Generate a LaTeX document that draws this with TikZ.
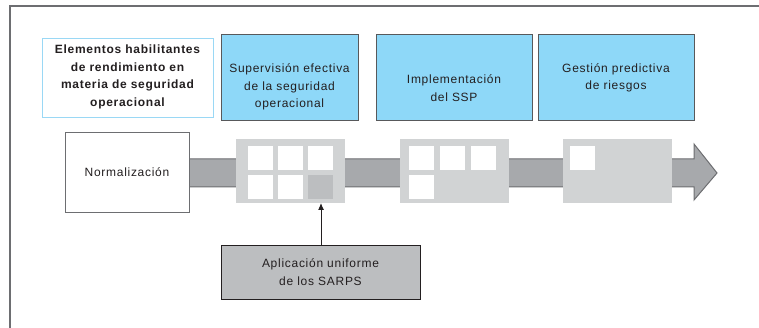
\documentclass[tikz,border=0pt]{standalone}
\usepackage{fontspec}
\usetikzlibrary{arrows.meta}
\setmainfont{Liberation Sans}[LetterSpace=6]
\definecolor{skyfill}{HTML}{8ED8F8}
\definecolor{skyline}{HTML}{9AD8F5}
\definecolor{darkline}{HTML}{58595B}
\definecolor{framegray}{HTML}{6D6E71}
\definecolor{bandgray}{HTML}{A7A9AC}
\definecolor{gridgray}{HTML}{D1D3D4}
\definecolor{cellgray}{HTML}{BCBEC0}
\definecolor{textgray}{HTML}{231F20}
\begin{document}
\begin{tikzpicture}[x=1pt,y=-1pt,
  txt/.style={font=\fontsize{12}{17.5}\selectfont,align=center,text=textgray,inner sep=0pt},
  boxbase/.style={anchor=north west,inner sep=0pt,line width=1pt},
  bluebox/.style={boxbase,fill=skyfill,draw=darkline},
  gridbox/.style={boxbase,fill=gridgray,draw=none},
  cell/.style={anchor=north west,inner sep=0pt,fill=white,draw=none,minimum width=25pt,minimum height=23.5pt},
  darkcell/.style={cell,fill=cellgray}]
\useasboundingbox (0,0) rectangle (759,328);
% outer frame
\draw[framegray,line width=1.2pt] (10,328) -- (10,6) -- (759,6);
% band arrow
\draw[fill=bandgray,draw=framegray,line width=1pt]
  (189,159) -- (694,159) -- (694,144) -- (717,173) -- (694,200) -- (694,187) -- (189,187) -- cycle;
% top boxes
\node[boxbase,fill=white,draw=skyline,minimum width=171pt,minimum height=79pt] (elem) at (42,38) {};
\node[txt,font=\fontsize{12}{17.5}\selectfont\bfseries] (elemt) at (127.5,77) {Elementos habilitantes\\de rendimiento en\\materia de seguridad\\operacional};
\node[bluebox,minimum width=137pt,minimum height=86pt] (sup) at (221,34) {};
\node[txt] (supt) at (289.5,87) {Supervisión efectiva\\de la seguridad\\operacional};
\node[bluebox,minimum width=156pt,minimum height=86pt] (imp) at (376,34) {};
\node[txt] (impt) at (454,88) {Implementación\\del SSP};
\node[bluebox,minimum width=156pt,minimum height=86pt] (ges) at (538,34) {};
\node[txt] (gest) at (616,78) {Gestión predictiva\\de riesgos};
% Normalizacion
\node[boxbase,fill=white,draw=framegray,minimum width=124pt,minimum height=80pt] (norm) at (65,132) {};
\node[txt] (normt) at (127,172) {Normalización};
% grid boxes
\node[gridbox,minimum width=109pt,minimum height=64pt] (g1) at (235,139) {};
\node[cell] (c11) at (248,146) {};
\node[cell] (c12) at (278,146) {};
\node[cell] (c13) at (308,146) {};
\node[cell] (c14) at (248,175) {};
\node[cell] (c15) at (278,175) {};
\node[darkcell] (c16) at (308,175) {};
\node[gridbox,minimum width=109pt,minimum height=64pt] (g2) at (399,139) {};
\node[cell] (c21) at (409,146) {};
\node[cell] (c22) at (440,146) {};
\node[cell] (c23) at (471,146) {};
\node[cell] (c24) at (409,175) {};
\node[gridbox,minimum width=109pt,minimum height=64pt] (g3) at (562,139) {};
\node[cell] (c31) at (570,146) {};
% Aplicacion
\node[boxbase,fill=cellgray,draw=textgray,minimum width=199pt,minimum height=54pt] (apl) at (221,245) {};
\node[txt] (aplt) at (320.5,272) {Aplicación uniforme\\de los SARPS};
\draw[-{Latex[length=7pt,width=6pt]},line width=1pt,textgray] (apl.north) -- ([yshift=1pt]apl.north |- g1.south);
\end{tikzpicture}
\end{document}
